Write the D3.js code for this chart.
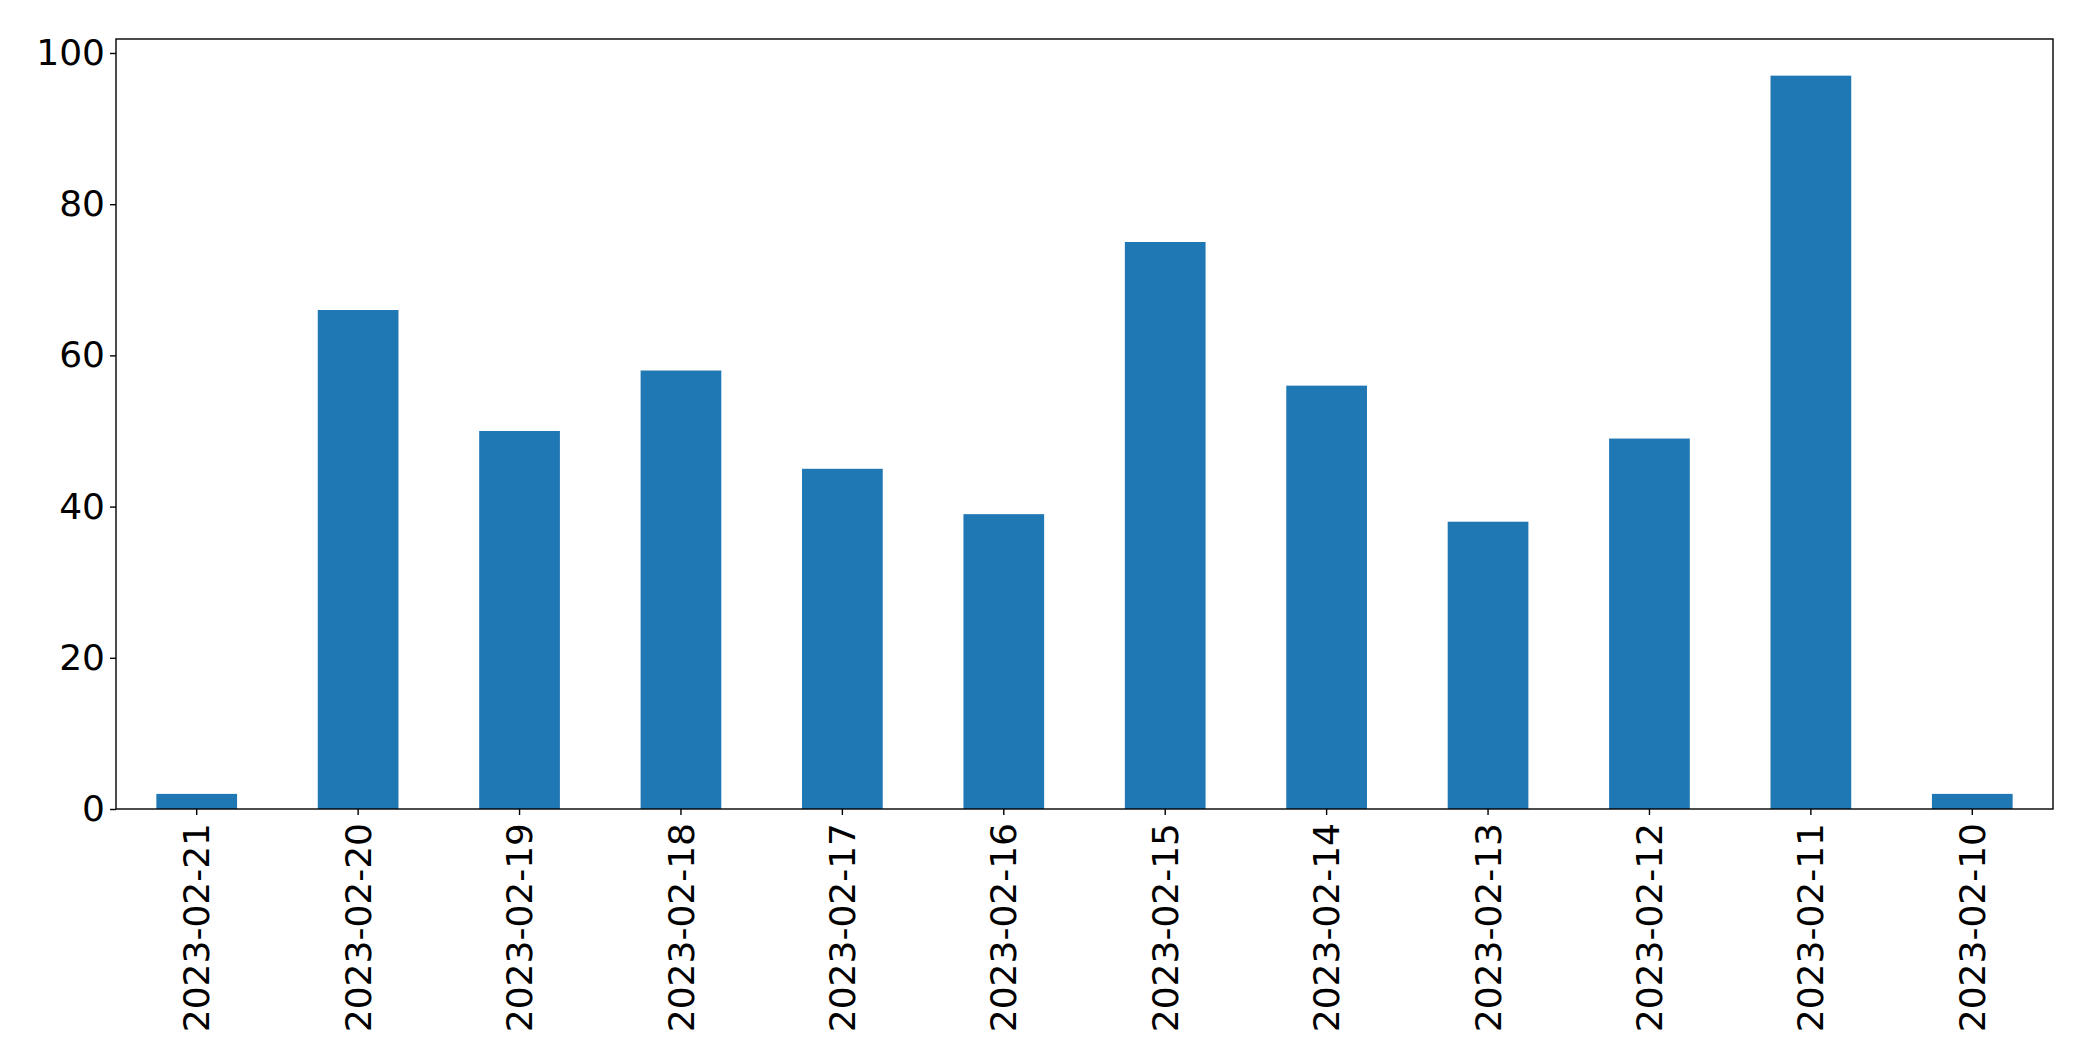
<!DOCTYPE html>
<html>
<head>
<meta charset="utf-8">
<script src="https://cdn.jsdelivr.net/npm/d3@7"></script>
<style>
  body { margin: 0; background: #fff; }
  svg { display: block; }
  .tick text { font-family: "DejaVu Sans", sans-serif; font-size: 36px; fill: #000; }
  .tick line { stroke: #000; stroke-width: 1.4px; }
  .domain { display: none; }
</style>
</head>
<body>
<svg width="2093" height="1061"></svg>
<script>
// data
var dates = ["2023-02-21", "2023-02-20", "2023-02-19", "2023-02-18", "2023-02-17", "2023-02-16",
             "2023-02-15", "2023-02-14", "2023-02-13", "2023-02-12", "2023-02-11", "2023-02-10"];
var counts = [2, 66, 50, 58, 45, 39, 75, 56, 38, 49, 97, 2];
var yTicks = [0, 20, 40, 60, 80, 100];

var svg = d3.select("svg"),
    margin = { top: 39, right: 40, bottom: 252, left: 116 },
    width = +svg.attr("width") - margin.left - margin.right,
    height = +svg.attr("height") - margin.top - margin.bottom;

var data = dates.map(function (d, i) { return { date: d, count: counts[i] }; });

// balken nemen de helft van elke band in (zoals pandas bar plot)
var x = d3.scaleBand().domain(dates).range([0, width]).paddingInner(0.5).paddingOuter(0.25),
    y = d3.scaleLinear().domain([0, d3.max(counts) * 1.05]).range([height, 0]);

var g = svg.append("g")
    .attr("transform", "translate(" + margin.left + "," + margin.top + ")");

g.selectAll(".bar")
    .data(data)
    .enter().append("rect")
    .attr("class", "bar")
    .attr("fill", "#1f77b4")
    .attr("x", function (d) { return x(d.date); })
    .attr("y", function (d) { return y(d.count); })
    .attr("width", x.bandwidth())
    .attr("height", function (d) { return height - y(d.count); });

// x as met gedraaide labels
var xAxis = g.append("g")
    .attr("transform", "translate(0," + height + ")")
    .call(d3.axisBottom(x).tickSize(6).tickPadding(6).tickSizeOuter(0));

xAxis.selectAll("text")
    .style("text-anchor", "end")
    .attr("x", 0)
    .attr("y", 0)
    .attr("dx", "-14px")
    .attr("dy", "0.35em")
    .attr("transform", "rotate(-90)");

g.append("g")
    .call(d3.axisLeft(y).tickValues(yTicks).tickSize(6).tickPadding(5).tickSizeOuter(0));

// kader rond de grafiek
g.append("rect")
    .attr("width", width)
    .attr("height", height)
    .attr("fill", "none")
    .attr("stroke", "#000")
    .attr("stroke-width", 1.4);
</script>
</body>
</html>
